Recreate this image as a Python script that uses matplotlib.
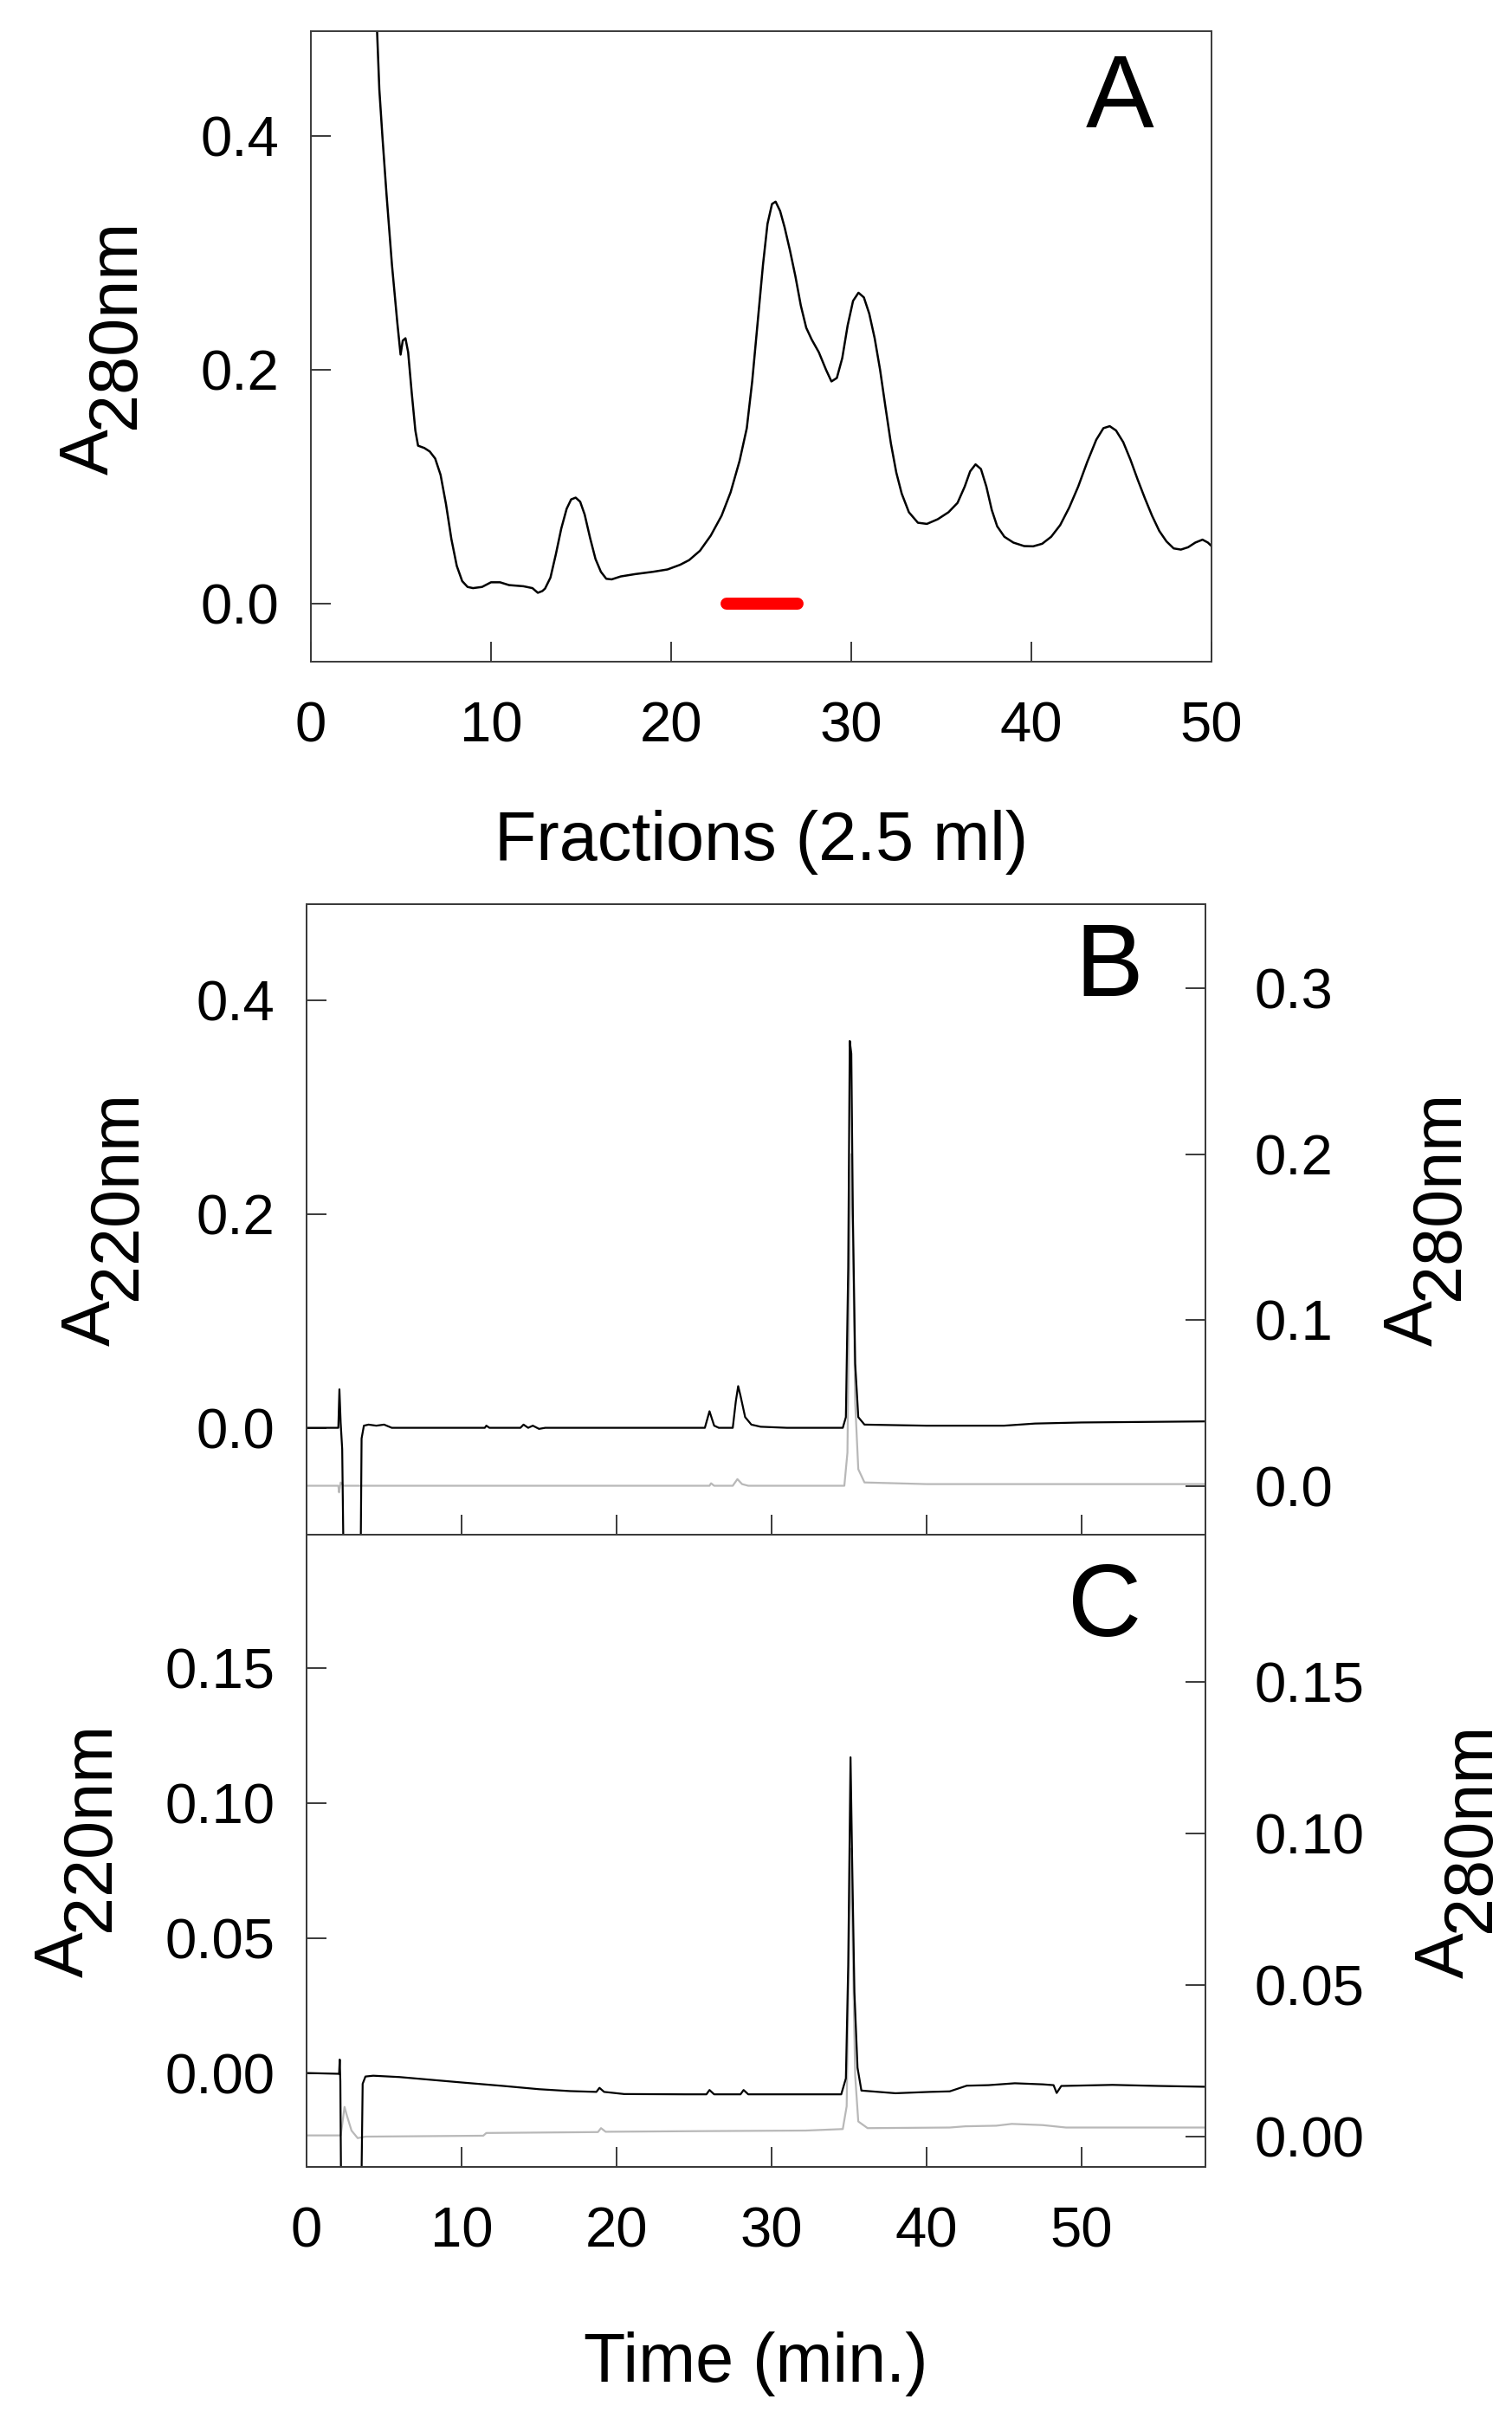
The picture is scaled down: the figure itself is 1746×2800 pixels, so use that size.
import matplotlib
matplotlib.use("Agg")
import matplotlib.pyplot as plt
from matplotlib.ticker import FormatStrFormatter

plt.rcParams['font.family'] = ['Liberation Sans', 'DejaVu Sans']

# ---- panel A: gel filtration, A280 per fraction
frac = [3.6, 3.8, 3.97, 4.2, 4.5, 4.8, 4.98, 5.1, 5.25, 5.4, 5.6, 5.8, 5.95, 6.3, 6.6,
        6.9, 7.2, 7.5, 7.8, 8.1, 8.4, 8.7, 9.0, 9.5, 10.0, 10.5, 11.0, 11.8, 12.3, 12.6,
        12.85, 13.0, 13.3, 13.6, 13.9, 14.2, 14.45, 14.7, 14.95, 15.2, 15.5, 15.8, 16.1,
        16.4, 16.7, 17.2, 18.0, 19.0, 19.8, 20.5, 21.0, 21.6, 22.2, 22.8, 23.3, 23.8,
        24.2, 24.5, 24.8, 25.1, 25.35, 25.6, 25.8, 26.05, 26.3, 26.6, 26.9, 27.2, 27.5,
        27.8, 28.2, 28.6, 28.9, 29.2, 29.5, 29.8, 30.1, 30.4, 30.7, 31.0, 31.3, 31.6,
        31.9, 32.2, 32.5, 32.8, 33.2, 33.7, 34.2, 34.8, 35.4, 35.9, 36.3, 36.6, 36.9,
        37.2, 37.5, 37.8, 38.1, 38.5, 39.0, 39.6, 40.1, 40.6, 41.1, 41.6, 42.1, 42.6,
        43.1, 43.6, 44.0, 44.35, 44.7, 45.1, 45.5, 45.9, 46.3, 46.7, 47.1, 47.5, 47.9,
        48.3, 48.7, 49.1, 49.5, 49.8, 50.0]
a280 = [0.52, 0.44, 0.40, 0.35, 0.29, 0.24, 0.213, 0.225, 0.227, 0.215, 0.18, 0.148,
        0.135, 0.133, 0.13, 0.124, 0.11, 0.085, 0.055, 0.032, 0.019, 0.014, 0.013, 0.014,
        0.018, 0.018, 0.0156, 0.0146, 0.013, 0.009, 0.0105, 0.0126, 0.022, 0.042, 0.064,
        0.081, 0.089, 0.0905, 0.087, 0.076, 0.056, 0.038, 0.027, 0.021, 0.0205, 0.023,
        0.025, 0.027, 0.029, 0.033, 0.037, 0.045, 0.058, 0.075, 0.095, 0.122, 0.15, 0.19,
        0.24, 0.29, 0.325, 0.342, 0.344, 0.336, 0.322, 0.302, 0.28, 0.255, 0.236, 0.226,
        0.215, 0.2, 0.19, 0.193, 0.21, 0.238, 0.259, 0.266, 0.262, 0.248, 0.227, 0.2,
        0.168, 0.137, 0.112, 0.094, 0.078, 0.069, 0.068, 0.072, 0.078, 0.086, 0.1, 0.113,
        0.119, 0.115, 0.1, 0.08, 0.066, 0.057, 0.052, 0.049, 0.0488, 0.051, 0.057, 0.067,
        0.082, 0.1, 0.121, 0.14, 0.15, 0.1517, 0.148, 0.138, 0.123, 0.106, 0.09, 0.075,
        0.062, 0.053, 0.047, 0.046, 0.048, 0.052, 0.0545, 0.052, 0.049]
pool_x = [23.1, 27.0]
pool_y = [0.0, 0.0]

# ---- panel B: HPLC, black = A220 (left), grey = A280 (right)
b220_t = [0, 2.05, 2.12, 2.2, 2.3, 2.45, 3.45, 3.55, 3.7, 4.0, 4.5, 5.0, 5.5, 11.5, 11.6,
          11.8, 13.8, 14.0, 14.3, 14.6, 15.0, 15.4, 25.7, 26.0, 26.3, 26.6, 27.5, 27.7,
          27.85, 28.0, 28.3, 28.7, 29.3, 31.0, 34.6, 34.8, 34.95, 35.05, 35.15, 35.25,
          35.4, 35.6, 36.0, 40.0, 45.0, 47.0, 50.0, 58.0]
b220_v = [0.0, 0.0, 0.036, 0.005, -0.02, -0.2, -0.2, -0.01, 0.002, 0.003, 0.002, 0.003,
          0.0, 0.0, 0.002, 0.0, 0.0, 0.003, 0.0, 0.002, -0.001, 0.0, 0.0, 0.0155, 0.002,
          0.0, 0.0, 0.025, 0.039, 0.03, 0.01, 0.003, 0.001, 0.0, 0.0, 0.01, 0.15, 0.362,
          0.35, 0.2, 0.06, 0.01, 0.003, 0.002, 0.002, 0.004, 0.005, 0.006]
b280_t = [0, 2.05, 2.1, 2.2, 2.4, 26.0, 26.1, 26.3, 27.5, 27.8, 28.1, 28.5, 34.7, 34.9,
          35.05, 35.15, 35.25, 35.4, 35.6, 36.0, 40.0, 58.0]
b280_v = [0.0, 0.0, -0.004, 0.002, 0.0, 0.0, 0.0015, 0.0, 0.0, 0.004, 0.001, 0.0, 0.0,
          0.02, 0.15, 0.2, 0.15, 0.05, 0.01, 0.002, 0.001, 0.001]

# ---- panel C: HPLC of purified fraction
c220_t = [0, 2.1, 2.14, 2.18, 2.25, 3.5, 3.62, 3.8, 4.3, 6, 8, 10, 12.7, 15, 17, 18.7,
          18.9, 19.2, 20.5, 24.4, 25.8, 26.0, 26.3, 28.0, 28.2, 28.5, 34.5, 34.8, 34.95,
          35.1, 35.2, 35.35, 35.55, 35.8, 38, 40.2, 41.5, 42.6, 44, 45.7, 47.5, 48.2,
          48.4, 48.7, 52, 55, 58]
c220_v = [0.0, -0.0003, 0.005, -0.003, -0.06, -0.06, -0.004, -0.0013, -0.001, -0.0015,
          -0.0025, -0.0035, -0.0048, -0.006, -0.0067, -0.007, -0.0055, -0.007, -0.0078,
          -0.0079, -0.0079, -0.0063, -0.0079, -0.0079, -0.0063, -0.0079, -0.0079,
          -0.002, 0.04, 0.117, 0.08, 0.03, 0.002, -0.0065, -0.0075, -0.007, -0.0068,
          -0.0047, -0.0045, -0.0038, -0.0042, -0.0045, -0.0074, -0.0048, -0.0044,
          -0.0048, -0.0051]
c280_t = [0, 2.2, 2.3, 2.45, 2.6, 2.9, 3.3, 3.8, 11.4, 11.6, 18.8, 19.0, 19.3, 25.0,
          32.2, 34.6, 34.85, 35.0, 35.12, 35.25, 35.4, 35.6, 36.2, 41.5, 42.5, 44.5,
          45.5, 47.5, 49, 58]
c280_v = [0.0004, 0.0004, 0.004, 0.0098, 0.007, 0.002, -0.0005, 0.0, 0.0003, 0.0012,
          0.0015, 0.0028, 0.0016, 0.0018, 0.002, 0.0025, 0.01, 0.06, 0.095, 0.06, 0.02,
          0.005, 0.0028, 0.003, 0.0034, 0.0036, 0.0042, 0.0038, 0.003, 0.003]

W, H = 1746, 2800
TICK_FS = 47
LABEL_FS = 57
LETTER_FS = 85
SPINE = '#3a3a3a'
GREY = '#b8b8b8'

fig = plt.figure(figsize=(W / 100, H / 100), dpi=100)


def fx(px):
    return px / W


def fy(py):
    return 1 - py / H


def box(left, top, right, bottom):
    return [fx(left), fy(bottom), (right - left) / W, (bottom - top) / H]


def style(ax, xpad=33, ypad=26.6):
    for s in ax.spines.values():
        s.set_color(SPINE)
        s.set_linewidth(1.4)
    ax.tick_params(direction='in', length=16.5, width=1.4, color=SPINE, labelsize=TICK_FS)
    ax.tick_params(axis='x', pad=xpad)
    ax.tick_params(axis='y', pad=ypad)


def a_label(x_base, y_start, sub):
    # "A" followed by a lowered wavelength, both full size
    t = fig.text(fx(x_base), fy(y_start), "A", rotation=90, rotation_mode='anchor',
                 ha='left', va='baseline', fontsize=LABEL_FS)
    h = t.get_window_extent(fig.canvas.get_renderer()).height
    fig.text(fx(x_base + 30), fy(y_start) + h / H, sub, rotation=90,
             rotation_mode='anchor', ha='left', va='baseline', fontsize=LABEL_FS)


# panel A
ax_a = fig.add_axes(box(359, 36, 1399, 764))
ax_a.plot(frac, a280, color='black', lw=1.8)
ax_a.plot(pool_x, pool_y, color='#ff0000', lw=10, solid_capstyle='round')
ax_a.set_xlim(0, 50)
ax_a.set_ylim(-0.05, 0.49)
ax_a.set_xticks([0, 10, 20, 30, 40, 50])
ax_a.set_yticks([0.0, 0.2, 0.4])
ax_a.yaxis.set_major_formatter(FormatStrFormatter('%.1f'))
style(ax_a)
fig.text(fx(879), fy(993), "Fractions (2.5 ml)", ha='center', va='baseline', fontsize=LABEL_FS)
fig.text(fx(1293), fy(147), "A", ha='center', va='baseline', fontsize=LETTER_FS)
a_label(125, 548, "280nm")

# panel B
ax_b = fig.add_axes(box(354, 1044, 1392, 1772))
ax_b2 = ax_b.twinx()
ax_b2.set_zorder(ax_b.get_zorder() - 1)
ax_b.patch.set_visible(False)
ax_b2.plot(b280_t, b280_v, color=GREY, lw=1.6)
ax_b.plot(b220_t, b220_v, color='black', lw=1.6)
ax_b.set_xlim(0, 58)
ax_b.set_ylim(-0.1, 0.49)
ax_b2.set_ylim(-0.0295, 0.3507)
ax_b.set_xticks([0, 10, 20, 30, 40, 50])
ax_b.set_yticks([0.0, 0.2, 0.4])
ax_b2.set_yticks([0.0, 0.1, 0.2, 0.3])
ax_b.yaxis.set_major_formatter(FormatStrFormatter('%.1f'))
ax_b2.yaxis.set_major_formatter(FormatStrFormatter('%.1f'))
style(ax_b)
style(ax_b2, ypad=41)
ax_b.tick_params(axis='x', labelbottom=False)
fig.text(fx(1281), fy(1150), "B", ha='center', va='baseline', fontsize=LETTER_FS)
a_label(127, 1554, "220nm")
a_label(1654, 1554, "280nm")

# panel C
ax_c = fig.add_axes(box(354, 1772, 1392, 2502))
ax_c2 = ax_c.twinx()
ax_c2.set_zorder(ax_c.get_zorder() - 1)
ax_c.patch.set_visible(False)
ax_c2.plot(c280_t, c280_v, color=GREY, lw=1.6)
ax_c.plot(c220_t, c220_v, color='black', lw=1.6)
ax_c.set_xlim(0, 58)
ax_c.set_ylim(-0.0348, 0.1995)
ax_c2.set_ylim(-0.01, 0.1987)
ax_c.set_xticks([0, 10, 20, 30, 40, 50])
ax_c.set_yticks([0.0, 0.05, 0.10, 0.15])
ax_c2.set_yticks([0.0, 0.05, 0.10, 0.15])
ax_c.yaxis.set_major_formatter(FormatStrFormatter('%.2f'))
ax_c2.yaxis.set_major_formatter(FormatStrFormatter('%.2f'))
style(ax_c)
style(ax_c2, ypad=41)
fig.text(fx(873), fy(2750), "Time (min.)", ha='center', va='baseline', fontsize=LABEL_FS)
fig.text(fx(1276), fy(1889), "C", ha='center', va='baseline', fontsize=LETTER_FS)
a_label(96, 2283, "220nm")
a_label(1690, 2284, "280nm")

fig.savefig("out.png", dpi=100)
